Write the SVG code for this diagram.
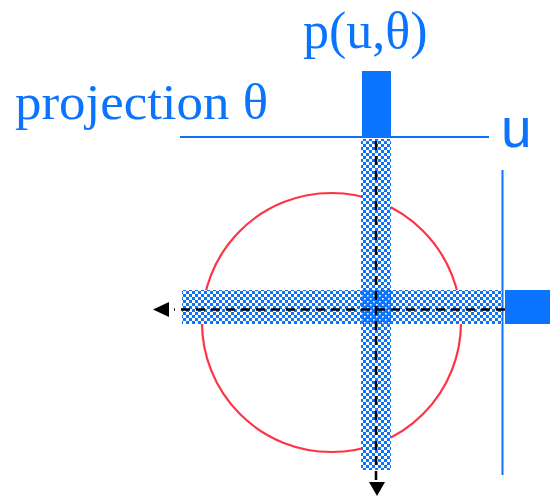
<svg xmlns="http://www.w3.org/2000/svg" width="550" height="497" viewBox="0 0 550 497">
<style>
.lbl{fill:#0a74ff;font-family:"Liberation Serif","Times New Roman",serif}
.ax{stroke:#0a74ff;stroke-width:2;fill:none}
.dash{stroke:#000;stroke-width:2.5;stroke-dasharray:9,6;fill:none}
.bar{fill:#0a74ff}
</style>
<defs>
<pattern id="chk" width="6" height="6" patternUnits="userSpaceOnUse">
<rect width="6" height="6" fill="#0a74ff"/>
<rect width="3" height="3" fill="#fff"/>
<rect x="3" y="3" width="3" height="3" fill="#fff"/>
</pattern>
<pattern id="dots" width="6" height="6" patternUnits="userSpaceOnUse">
<rect width="6" height="6" fill="#0a74ff"/>
<rect x="1" y="1" width="1.6" height="1.6" fill="#fff"/>
<rect x="4" y="4" width="1.6" height="1.6" fill="#fff"/>
</pattern>
</defs>
<g id="object">
<circle cx="331.5" cy="322.5" r="129.5" fill="none" stroke="#ff3344" stroke-width="2.2"/>
</g>
<g id="axes">
<line class="ax" x1="180" y1="137" x2="489" y2="137"/>
<line class="ax" x1="502.5" y1="170" x2="502.5" y2="475"/>
</g>
<g id="rays">
<rect x="361" y="139" width="30" height="331" fill="url(#chk)"/>
<rect x="182" y="290" width="319.5" height="34" fill="url(#chk)"/>
<rect x="361" y="290" width="30" height="34" fill="url(#dots)"/>
</g>
<g id="projections">
<rect class="bar" x="362" y="71" width="29" height="65"/>
<rect class="bar" x="505" y="290" width="45" height="34"/>
</g>
<g id="connectors">
<line class="dash" x1="376" y1="141" x2="376" y2="480"/>
<polygon points="369,482 385,482 377,496" fill="#000"/>
<line class="dash" x1="505" y1="309.5" x2="174" y2="309.5"/>
<polygon points="169,302 169,317 153,309.5" fill="#000"/>
</g>
<g id="labels">
<text class="lbl" x="303" y="48" font-size="52">p(u,θ)</text>
<text class="lbl" x="15" y="119" font-size="51" textLength="253" lengthAdjust="spacingAndGlyphs">projection θ</text>
<text x="501" y="147" font-size="55" fill="#0a74ff" font-family="'Liberation Sans',Arial,sans-serif">u</text>
</g>
</svg>
